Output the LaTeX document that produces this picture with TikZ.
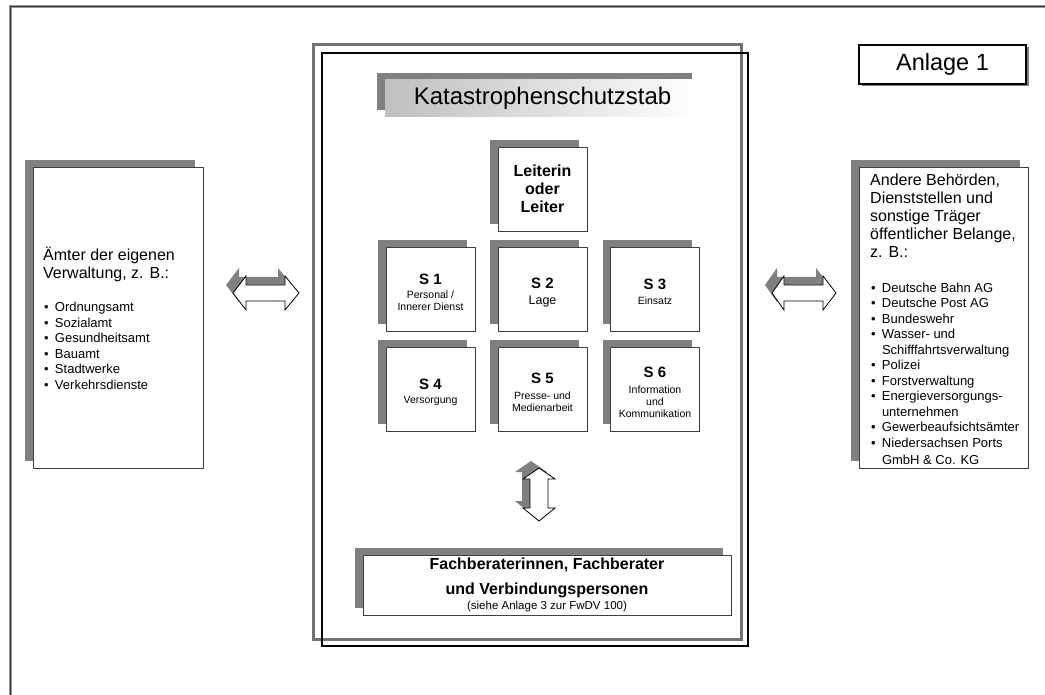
\documentclass[tikz,border=0pt]{standalone}
\usepackage{fontspec}
\setmainfont{Liberation Sans}
\usetikzlibrary{shadows}
\newcommand\bul{\makebox[10.8pt][l]{•}}
\newcommand\ind{\hspace*{10.8pt}}
\newcommand\snum[1]{{\fontsize{15}{15}\bfseries\rule{0pt}{16.8pt}#1}}
\begin{document}
\begin{tikzpicture}[x=1pt,y=-1pt,
  shade8/.style={drop shadow={shadow xshift=-8pt, shadow yshift=7pt, fill=black!50, opacity=1}},
  shbox/.style={draw=black!75, line width=0.8pt, fill=white, inner sep=0pt, align=center, shade8},
  sbox/.style={shbox, minimum width=89pt, minimum height=84pt, font=\fontsize{10.5}{12}\selectfont},
  tbl/.style={anchor=base west, inner sep=0pt},
  arr/.style={fill=white, draw=black, line width=0.8pt, line join=miter},
  arrsh/.style={fill=black!50},
]
\useasboundingbox (0,0) rectangle (1045,695);
% page frame
\draw[black!40, line width=3pt] (10,700) -- (10,7) -- (1050,7);
\draw[black!80, line width=1pt] (10,700) -- (10,7) -- (1050,7);
% central frames
\draw[black!55, line width=3pt] (313,45) rectangle (741,639);
\draw[black, line width=2.2pt] (322,53) rectangle (748,646);
% title
\node[shade8, minimum width=315pt, minimum height=37pt, inner sep=0pt,
      left color=black!25, right color=white, font=\fontsize{24}{26}\selectfont]
      (title) at (542.5,98.5) {Katastrophenschutzstab};
% Anlage
\node[draw, line width=1.6pt, fill=white, minimum width=167pt, minimum height=39pt, inner sep=0pt,
      font=\fontsize{23.5}{26}\selectfont,
      drop shadow={shadow xshift=2.5pt, shadow yshift=-2.5pt, fill=black!50, opacity=1}]
      (anlage) at (942.5,64.5) {Anlage 1};
% leader
\node[shbox, minimum width=89pt, minimum height=84pt, font=\fontsize{16}{18}\bfseries]
      (leiter) at (542.5,189) {Leiterin\\oder\\Leiter};
% S boxes
\node[sbox] (s1) at (430.5,289) {\snum{S 1}\\[1.5pt]Personal /\\Innerer Dienst};
\node[sbox] (s2) at (542.5,289) {\snum{S 2}\\[4pt]{\fontsize{12.5}{14}\selectfont Lage}};
\node[sbox] (s3) at (655,289) {\snum{S 3}\\[3pt]Einsatz};
\node[sbox] (s4) at (430.5,389) {\snum{S 4}\\[2pt]Versorgung};
\node[sbox] (s5) at (542.5,389) {\snum{S 5}\\[4pt]Presse- und\\Medienarbeit};
\node[sbox] (s6) at (655,389) {\snum{S 6}\\[4pt]Information\\und\\Kommunikation};
% left box
\node[shbox, minimum width=170pt, minimum height=301pt] (left) at (118,317.5) {};
\node[tbl, font=\fontsize{16}{18}\selectfont] (lhead) at (43,260.5)
  {\begin{tabular}[t]{@{}l@{}}Ämter der eigenen\\Verwaltung, z. B.:\end{tabular}};
\node[tbl, font=\fontsize{13}{15.6}\selectfont] (llist) at (44,311.5)
  {\begin{tabular}[t]{@{}l@{}}\bul Ordnungsamt\\\bul Sozialamt\\\bul Gesundheitsamt\\\bul Bauamt\\\bul Stadtwerke\\\bul Verkehrsdienste\end{tabular}};
% right box
\node[shbox, minimum width=169pt, minimum height=301pt] (right) at (943.5,317.5) {};
\node[tbl, font=\fontsize{16}{18}\selectfont] (rhead) at (870,185.7)
  {\begin{tabular}[t]{@{}l@{}}Andere Behörden,\\Dienststellen und\\sonstige Träger\\öffentlicher Belange,\\z. B.:\end{tabular}};
\node[tbl, font=\fontsize{13}{15.5}\selectfont] (rlist) at (871,292.5)
  {\begin{tabular}[t]{@{}l@{}}\bul Deutsche Bahn AG\\\bul Deutsche Post AG\\\bul Bundeswehr\\\bul Wasser- und\\\ind Schifffahrtsverwaltung\\\bul Polizei\\\bul Forstverwaltung\\\bul Energieversorgungs-\\\ind unternehmen\\\bul Gewerbeaufsichtsämter\\\bul Niedersachsen Ports\\[1.5pt]\ind GmbH \& Co. KG\end{tabular}};
% advisers
\node[shbox, minimum width=368pt, minimum height=60pt, font=\fontsize{16}{18}\bfseries]
  (fach) at (547,585) {Fachberaterinnen, Fachberater\\[7pt]und Verbindungspersonen\\[-3.5pt]{\fontsize{11.5}{13}\mdseries\selectfont (siehe Anlage 3 zur FwDV 100)}};
% arrows
\coordinate (la) at (266,293);
\coordinate (ra) at (804,293);
\coordinate (va) at (539,494.5);
\begin{scope}[shift={(la)}]
  \fill[arrsh, shift={(-7,-8)}] (-33,0) -- (-20,-17) -- (-20,-8) -- (19,-8) -- (19,-17) -- (33,0) -- (19,17) -- (19,8) -- (-20,8) -- (-20,17) -- cycle;
  \filldraw[arr] (-33,0) -- (-20,-17) -- (-20,-8) -- (19,-8) -- (19,-17) -- (33,0) -- (19,17) -- (19,8) -- (-20,8) -- (-20,17) -- cycle;
\end{scope}
\begin{scope}[shift={(ra)}]
  \fill[arrsh, shift={(-7,-8)}] (-32,0) -- (-20,-17) -- (-20,-8) -- (19,-8) -- (19,-17) -- (32,0) -- (19,17) -- (19,8) -- (-20,8) -- (-20,17) -- cycle;
  \filldraw[arr] (-32,0) -- (-20,-17) -- (-20,-8) -- (19,-8) -- (19,-17) -- (32,0) -- (19,17) -- (19,8) -- (-20,8) -- (-20,17) -- cycle;
\end{scope}
\begin{scope}[shift={(va)}]
  \fill[arrsh, shift={(-8,-7)}] (0,-26.5) -- (16,-15.5) -- (9,-15.5) -- (9,13.5) -- (16,13.5) -- (0,26.5) -- (-16,13.5) -- (-9,13.5) -- (-9,-15.5) -- (-16,-15.5) -- cycle;
  \filldraw[arr] (0,-26.5) -- (16,-15.5) -- (9,-15.5) -- (9,13.5) -- (16,13.5) -- (0,26.5) -- (-16,13.5) -- (-9,13.5) -- (-9,-15.5) -- (-16,-15.5) -- cycle;
\end{scope}
\end{tikzpicture}
\end{document}
